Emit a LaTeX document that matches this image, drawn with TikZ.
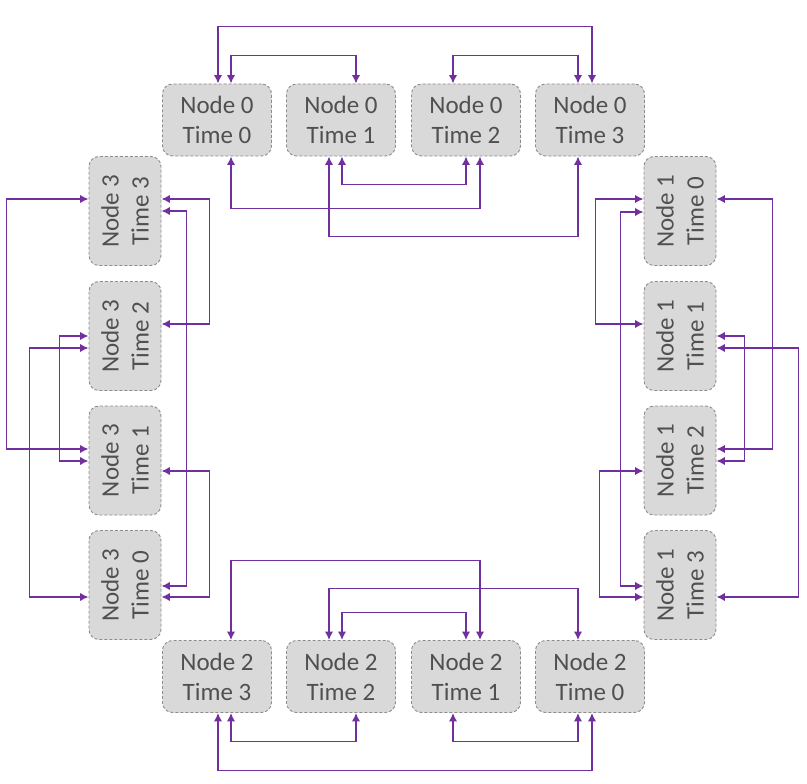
\documentclass[tikz,border=0pt]{standalone}
\usepackage{fontspec}
\setmainfont{Carlito}
\usetikzlibrary{arrows.meta}
\definecolor{boxfill}{HTML}{D9D9D9}
\definecolor{boxline}{HTML}{8C8C8C}
\definecolor{txt}{HTML}{505050}
\definecolor{purp}{HTML}{7030A0}
\begin{document}
\begin{tikzpicture}[x=1pt,y=-1pt,
  tbox/.style={draw=boxline,fill=boxfill,dash pattern=on 3pt off 2pt,line width=0.9pt,
    rounded corners=10pt,minimum width=109pt,minimum height=72pt,inner sep=0pt,
    align=center,text=txt,font=\fontsize{25}{30}\selectfont},
  vbox/.style={tbox,rotate=90},
  conn/.style={draw=purp,line width=1.8pt,{Latex[length=8.5pt,width=8.5pt]}-{Latex[length=8.5pt,width=8.5pt]}}]
\useasboundingbox (0,0) rectangle (807,784);
% top row
\node[tbox] (a0) at (217,120) {Node 0\\Time 0};
\node[tbox] (a1) at (341,120) {Node 0\\Time 1};
\node[tbox] (a2) at (466,120) {Node 0\\Time 2};
\node[tbox] (a3) at (590,120) {Node 0\\Time 3};
% bottom row
\node[tbox] (b3) at (217,676.5) {Node 2\\Time 3};
\node[tbox] (b2) at (341,676.5) {Node 2\\Time 2};
\node[tbox] (b1) at (466,676.5) {Node 2\\Time 1};
\node[tbox] (b0) at (590,676.5) {Node 2\\Time 0};
% left column
\node[vbox] (l3) at (125,211) {Node 3\\Time 3};
\node[vbox] (l2) at (125,336) {Node 3\\Time 2};
\node[vbox] (l1) at (125,460.5) {Node 3\\Time 1};
\node[vbox] (l0) at (125,585) {Node 3\\Time 0};
% right column
\node[vbox] (r0) at (680,211) {Node 1\\Time 0};
\node[vbox] (r1) at (680,336) {Node 1\\Time 1};
\node[vbox] (r2) at (680,460.5) {Node 1\\Time 2};
\node[vbox] (r3) at (680,585) {Node 1\\Time 3};
% top connectors
\draw[conn] ([xshift=1pt]a0.north) -- ++(0,-57) -| ([xshift=2pt]a3.north);
\draw[conn] ([xshift=14pt]a0.north) -- ++(0,-28) -| ([xshift=15pt]a1.north);
\draw[conn] ([xshift=-13pt]a2.north) -- ++(0,-28) -| ([xshift=-12pt]a3.north);
\draw[conn] ([xshift=14pt]a0.south) -- ++(0,52) -| ([xshift=14pt]a2.south);
\draw[conn] ([xshift=1pt]a1.south) -- ++(0,28) -| (a2.south);
\draw[conn] ([xshift=-12pt]a1.south) -- ++(0,80) -| ([xshift=-12pt]a3.south);
% bottom connectors
\draw[conn] ([xshift=14pt]b3.north) -- ++(0,-79.5) -| ([xshift=14pt]b1.north);
\draw[conn] ([xshift=-12pt]b2.north) -- ++(0,-51.5) -| ([xshift=-12pt]b0.north);
\draw[conn] ([xshift=1pt]b2.north) -- ++(0,-27.5) -| (b1.north);
\draw[conn] ([xshift=14pt]b3.south) -- ++(0,28.5) -| ([xshift=15pt]b2.south);
\draw[conn] ([xshift=-13pt]b1.south) -- ++(0,28.5) -| ([xshift=-12pt]b0.south);
\draw[conn] ([xshift=1pt]b3.south) -- ++(0,57.5) -| ([xshift=2pt]b0.south);
% left column connectors
\draw[conn] ([yshift=12pt]l3.north) -- ++(-82,0) |- ([yshift=11.5pt]l1.north);
\draw[conn] ([yshift=-12pt]l2.north) -- ++(-59,0) |- ([yshift=-12pt]l0.north);
\draw[conn] (l2.north) -- ++(-29,0) |- ([yshift=-0.5pt]l1.north);
\draw[conn] ([yshift=12pt]l3.south) -- ++(48,0) |- ([yshift=12pt]l2.south);
\draw[conn] (l3.south) -- ++(25,0) |- ([yshift=-1pt]l0.south);
\draw[conn] ([yshift=-10.5pt]l1.south) -- ++(48,0) |- ([yshift=-12pt]l0.south);
% right column connectors
\draw[conn] ([yshift=12pt]r0.north) -- ++(-48,0) |- ([yshift=12pt]r1.north);
\draw[conn] ([yshift=-1pt]r0.north) -- ++(-23,0) |- ([yshift=-1pt]r3.north);
\draw[conn] ([yshift=-10.5pt]r2.north) -- ++(-44,0) |- ([yshift=-12pt]r3.north);
\draw[conn] ([yshift=12pt]r0.south) -- ++(56,0) |- ([yshift=11.5pt]r2.south);
\draw[conn] (r1.south) -- ++(28,0) |- ([yshift=-0.5pt]r2.south);
\draw[conn] ([yshift=-12pt]r1.south) -- ++(82,0) |- ([yshift=-12pt]r3.south);
\end{tikzpicture}
\end{document}
